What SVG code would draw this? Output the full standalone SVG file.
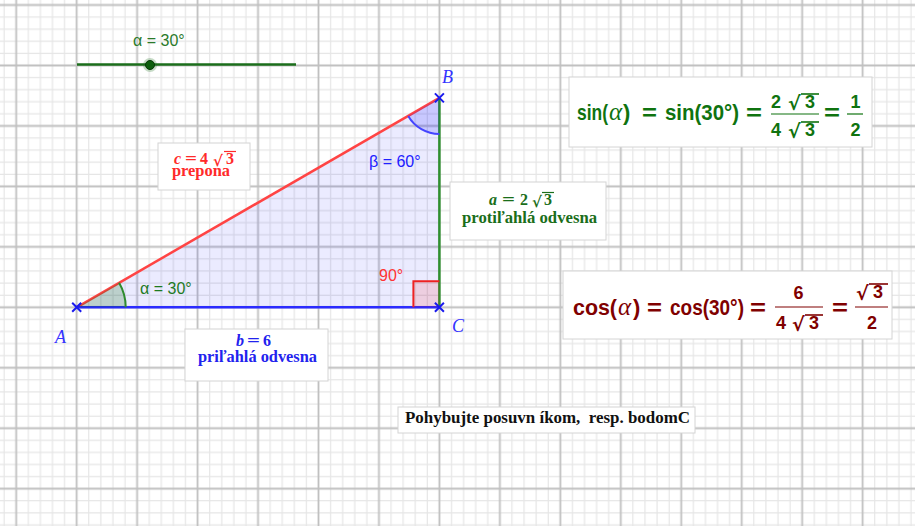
<svg xmlns="http://www.w3.org/2000/svg" width="915" height="526" viewBox="0 0 915 526">
<style>
.minor{stroke:#e6e6e6;stroke-width:1.2;fill:none}
.major{stroke:#c0c0c0;stroke-width:1.8;fill:none}
.box{fill:#ffffff;stroke:#d4d4d4;stroke-width:1}
.fs{font-family:"Liberation Sans",Arial,sans-serif;font-weight:bold;font-size:22px}
.fr{font-family:"Liberation Sans",Arial,sans-serif;font-weight:bold;font-size:18px}
.rad{font-family:"DejaVu Sans",sans-serif;font-weight:bold;font-size:19px}
.mi{font-family:"Liberation Serif",serif;font-style:italic;font-size:25px}
.lbl{font-family:"Liberation Serif",serif;font-weight:bold;font-size:16px}
.lbli{font-family:"Liberation Serif",serif;font-weight:bold;font-style:italic;font-size:16px}
.lrad{font-family:"DejaVu Serif",serif;font-weight:bold;font-size:15px}
.ang{font-family:"Liberation Sans",Arial,sans-serif;font-size:16px}
.pt{font-family:"Liberation Serif",serif;font-style:italic;font-size:18px;fill:#3333ff}
.cross{stroke:#1a1aee;stroke-width:2}
</style>
<defs>
<pattern id="grid" patternUnits="userSpaceOnUse" x="-14.03" y="-25.23" width="60.46" height="60.46">
<path class="minor" d="M6.05 0V60.46M18.14 0V60.46M42.32 0V60.46M54.41 0V60.46M0 6.05H60.46M0 18.14H60.46M0 42.32H60.46M0 54.41H60.46"/>
<path class="major" d="M30.23 0V60.46M0 30.23H60.46"/>
</pattern>
</defs>
<rect width="915" height="526" fill="#ffffff"/>
<rect width="915" height="526" fill="url(#grid)"/>

<g id="slider">
<line x1="77" y1="64.5" x2="296" y2="64.5" stroke="#1b6e1b" stroke-width="2.5"/>
<circle cx="150" cy="65" r="7" fill="#1b6e1b" opacity="0.25"/>
<circle cx="150" cy="65" r="4.5" fill="#0d5e0d" stroke="#063806" stroke-width="1"/>
<text x="133" y="46" class="ang" fill="#2a7a2a">α = 30°</text>
</g>

<g id="triangle">
<polygon points="76.7,307.3 439.4,307.3 439.4,97.9" fill="#0000ff" fill-opacity="0.08"/>
</g>

<g id="connectors">
<line id="side-c" x1="76.7" y1="307.3" x2="439.4" y2="97.9" stroke="#ff4444" stroke-width="2.5"/>
<line id="side-b" x1="76.7" y1="307.3" x2="439.4" y2="307.3" stroke="#2b2bff" stroke-width="2.5"/>
<line id="side-a" x1="439.4" y1="307.3" x2="439.4" y2="97.9" stroke="#2f8f2f" stroke-width="2.5"/>
</g>

<g id="angle-alpha">
<path d="M76.7 307.3L125.7 307.3A49 49 0 0 0 119.1 282.8Z" fill="#006400" fill-opacity="0.2"/>
<path d="M125.7 307.3A49 49 0 0 0 119.1 282.8" fill="none" stroke="#2e8b2e" stroke-width="2"/>
<text x="140" y="294" class="ang" fill="#1f7a1f">α = 30°</text>
</g>

<g id="angle-beta">
<path d="M439.4 97.9L408.2 115.9A36 36 0 0 0 439.4 133.9Z" fill="#0000ff" fill-opacity="0.15"/>
<path d="M408.2 115.9A36 36 0 0 0 439.4 133.9" fill="none" stroke="#4444ff" stroke-width="2"/>
<text x="369" y="167" class="ang" fill="#2020ff">β = 60°</text>
</g>

<g id="angle-right">
<rect x="413.4" y="281.3" width="26" height="26" fill="#ff0000" fill-opacity="0.12"/>
<polyline points="413.4,307.3 413.4,281.3 439.4,281.3" fill="none" stroke="#ee2222" stroke-width="2"/>
<text x="379" y="280.5" class="ang" fill="#ff3333">90°</text>
</g>

<g id="point-A">
<path class="cross" d="M72.2 302.8L81.2 311.8M72.2 311.8L81.2 302.8"/>
<text x="55" y="343" class="pt">A</text>
</g>
<g id="point-B">
<path class="cross" d="M434.9 93.4L443.9 102.4M434.9 102.4L443.9 93.4"/>
<text x="442" y="82.5" class="pt">B</text>
</g>
<g id="point-C">
<path class="cross" d="M434.9 302.8L443.9 311.8M434.9 311.8L443.9 302.8"/>
<text x="452" y="331.5" class="pt">C</text>
</g>

<g id="label-c" fill="#ff2a2a">
<rect class="box" x="158" y="143" width="92" height="47"/>
<text x="174" y="164" class="lbli">c</text>
<text x="185" y="164" class="lbl" textLength="12" lengthAdjust="spacingAndGlyphs">=</text>
<text x="200" y="164" class="lbl">4</text>
<text x="213" y="165.5" class="lrad">√</text>
<text x="226" y="164" class="lbl">3</text>
<line x1="224" y1="151.5" x2="236" y2="151.5" stroke="#ff2a2a" stroke-width="1.2"/>
<text x="172" y="176" class="lbl" textLength="58" lengthAdjust="spacingAndGlyphs">prepona</text>
</g>

<g id="label-a" fill="#1a6e1a">
<rect class="box" x="450" y="182" width="156" height="58"/>
<text x="489" y="205" class="lbli">a</text>
<text x="502" y="205" class="lbl" textLength="13" lengthAdjust="spacingAndGlyphs">=</text>
<text x="520" y="205" class="lbl">2</text>
<text x="532" y="206.5" class="lrad">√</text>
<text x="544" y="205" class="lbl">3</text>
<line x1="542" y1="192.5" x2="554" y2="192.5" stroke="#1a6e1a" stroke-width="1.2"/>
<text x="462" y="222.7" class="lbl" textLength="135" lengthAdjust="spacingAndGlyphs">protiľahlá odvesna</text>
</g>

<g id="label-b" fill="#2222ee">
<rect class="box" x="185" y="329" width="143" height="52"/>
<text x="236" y="345.7" class="lbli">b</text>
<text x="247" y="345.7" class="lbl" textLength="13" lengthAdjust="spacingAndGlyphs">=</text>
<text x="263" y="345.7" class="lbl">6</text>
<text x="198" y="361.5" class="lbl" textLength="119" lengthAdjust="spacingAndGlyphs">priľahlá odvesna</text>
</g>

<g id="sin-formula" fill="#0f730f">
<rect class="box" x="569" y="77" width="303" height="70"/>
<text x="577" y="120" class="fs" textLength="31" lengthAdjust="spacingAndGlyphs">sin(</text>
<text x="609" y="120" class="mi">α</text>
<text x="623" y="120" class="fs">)</text>
<text x="642" y="120" class="fs" textLength="15" lengthAdjust="spacingAndGlyphs">=</text>
<text x="665" y="120" class="fs" textLength="74" lengthAdjust="spacingAndGlyphs">sin(30°)</text>
<text x="746" y="120" class="fs" textLength="16" lengthAdjust="spacingAndGlyphs">=</text>
<text x="771" y="108" class="fr">2</text>
<text x="788" y="110" class="rad">√</text>
<text x="805" y="108" class="fr">3</text>
<line x1="801" y1="94" x2="819" y2="94" stroke="#0f730f" stroke-width="1.6"/>
<line x1="771" y1="114" x2="819" y2="114" stroke="#0f730f" stroke-width="1.2"/>
<text x="771" y="136" class="fr">4</text>
<text x="788" y="138" class="rad">√</text>
<text x="805" y="136" class="fr">3</text>
<line x1="801" y1="122" x2="819" y2="122" stroke="#0f730f" stroke-width="1.6"/>
<text x="824" y="120" class="fs" textLength="16" lengthAdjust="spacingAndGlyphs">=</text>
<text x="855.5" y="108" class="fr" text-anchor="middle">1</text>
<line x1="847" y1="114" x2="863" y2="114" stroke="#0f730f" stroke-width="1.2"/>
<text x="855.5" y="136" class="fr" text-anchor="middle">2</text>
</g>

<g id="cos-formula" fill="#800000">
<rect class="box" x="563" y="271" width="329" height="68"/>
<text x="573" y="315" class="fs" textLength="44" lengthAdjust="spacingAndGlyphs">cos(</text>
<text x="618" y="315" class="mi">α</text>
<text x="633" y="315" class="fs">)</text>
<text x="647" y="315" class="fs" textLength="15" lengthAdjust="spacingAndGlyphs">=</text>
<text x="670" y="315" class="fs" textLength="74" lengthAdjust="spacingAndGlyphs">cos(30°)</text>
<text x="750" y="315" class="fs" textLength="16" lengthAdjust="spacingAndGlyphs">=</text>
<text x="798.5" y="299" class="fr" text-anchor="middle">6</text>
<line x1="775" y1="307" x2="823" y2="307" stroke="#800000" stroke-width="1.2"/>
<text x="776" y="329" class="fr">4</text>
<text x="792" y="331" class="rad">√</text>
<text x="809" y="329" class="fr">3</text>
<line x1="805" y1="315" x2="823" y2="315" stroke="#800000" stroke-width="1.6"/>
<text x="832" y="315" class="fs" textLength="16" lengthAdjust="spacingAndGlyphs">=</text>
<text x="856" y="300" class="rad">√</text>
<text x="873" y="298" class="fr">3</text>
<line x1="869" y1="284" x2="888" y2="284" stroke="#800000" stroke-width="1.6"/>
<line x1="855" y1="307" x2="888" y2="307" stroke="#800000" stroke-width="1.2"/>
<text x="872" y="329" class="fr" text-anchor="middle">2</text>
</g>

<g id="hint">
<rect class="box" x="398" y="407" width="297" height="26"/>
<text x="405" y="422.5" class="lbl" font-size="15" fill="#111111" textLength="285" lengthAdjust="spacingAndGlyphs" xml:space="preserve">Pohybujte posuvn íkom,  resp. bodomC</text>
</g>
</svg>
